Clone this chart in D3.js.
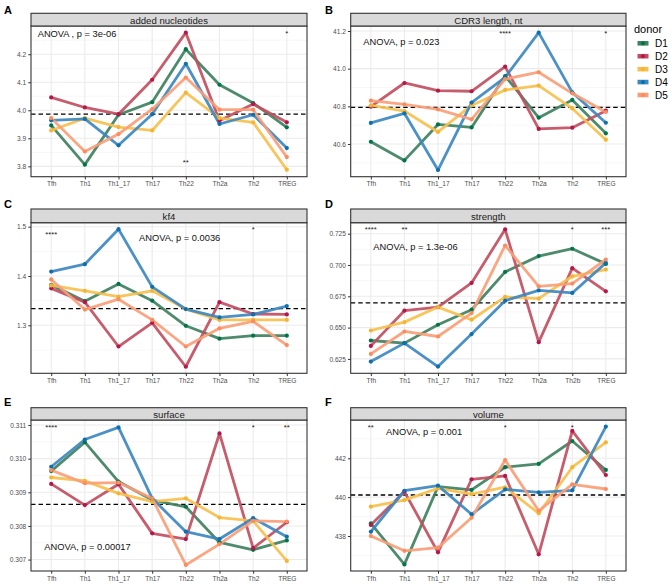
<!DOCTYPE html>
<html>
<head>
<meta charset="utf-8">
<script src="https://cdn.jsdelivr.net/npm/d3@7"></script>
<style>
  html, body { margin: 0; padding: 0; background: #fff; }
  svg { display: block; font-family: "Liberation Sans", Arial, Helvetica, sans-serif; }
</style>
</head>
<body>
<svg id="chart" width="671" height="584"></svg>
<script>
// ---------------- DATA ----------------
const categories  = ["Tfh", "Th1", "Th1_17", "Th17", "Th22", "Th2a", "Th2", "TREG"];
const categoriesD = ["Tfh", "Th1", "Th1_17", "Th17", "Th22", "Th2a", "Th2b", "TREG"];
const donors = ["D1", "D2", "D3", "D4", "D5"];
const lineColors  = ["#3f8160", "#c14e60", "#f6c04e", "#3c88c0", "#fa9e78"];
const pointColors = ["#00754a", "#b6164a", "#f5b530", "#0d6fad", "#f98d5e"];

// values per donor (D1..D5), in category order
const addedNucleotides = [
  [3.946, 3.806, 3.984, 4.029, 4.218, 4.091, 4.026, 3.939],
  [4.046, 4.010, 3.986, 4.109, 4.277, 3.963, 4.022, 3.957],
  [3.928, 3.972, 3.940, 3.928, 4.063, 3.972, 3.957, 3.788],
  [3.964, 3.969, 3.875, 3.986, 4.166, 3.951, 3.984, 3.865],
  [3.972, 3.853, 3.915, 4.004, 4.117, 4.002, 4.002, 3.833]
];
const cdr3Length = [
  [40.612, 40.513, 40.704, 40.688, 40.961, 40.740, 40.834, 40.657],
  [40.798, 40.924, 40.883, 40.880, 41.011, 40.680, 40.687, 40.777],
  [40.805, 40.775, 40.664, 40.805, 40.887, 40.910, 40.789, 40.623],
  [40.712, 40.763, 40.462, 40.820, 40.954, 41.191, 40.874, 40.713],
  [40.830, 40.811, 40.784, 40.731, 40.945, 40.981, 40.869, 40.770]
];
const kf4 = [
  [1.382, 1.349, 1.384, 1.350, 1.299, 1.273, 1.279, 1.279],
  [1.375, 1.347, 1.257, 1.305, 1.216, 1.347, 1.323, 1.322],
  [1.381, 1.370, 1.358, 1.370, 1.333, 1.311, 1.311, 1.311],
  [1.409, 1.424, 1.495, 1.378, 1.333, 1.316, 1.322, 1.339],
  [1.393, 1.332, 1.353, 1.311, 1.257, 1.294, 1.308, 1.260]
];
const strength = [
  [0.6397, 0.6376, 0.6523, 0.6643, 0.6945, 0.7071, 0.7130, 0.7009],
  [0.6354, 0.6635, 0.6664, 0.6857, 0.7285, 0.6384, 0.6975, 0.6790],
  [0.6477, 0.6544, 0.6664, 0.6563, 0.6745, 0.6731, 0.6910, 0.6964],
  [0.6229, 0.6376, 0.6189, 0.6448, 0.6715, 0.6798, 0.6777, 0.7017],
  [0.6290, 0.6469, 0.6429, 0.6616, 0.7156, 0.6830, 0.6852, 0.7044]
];
const surface = [
  [0.30963, 0.31049, 0.30932, 0.30877, 0.30857, 0.30751, 0.30729, 0.30757],
  [0.30925, 0.30862, 0.30924, 0.30778, 0.30761, 0.31075, 0.30734, 0.30811],
  [0.30944, 0.30934, 0.30897, 0.30872, 0.30882, 0.30825, 0.30815, 0.30696],
  [0.30976, 0.31057, 0.31093, 0.30882, 0.30783, 0.30761, 0.30823, 0.30768],
  [0.30966, 0.30927, 0.30929, 0.30882, 0.30684, 0.30746, 0.30815, 0.30813]
];
const volume = [
  [438.65, 436.54, 440.54, 440.37, 441.54, 441.71, 442.89, 441.40],
  [438.57, 440.28, 437.16, 440.92, 441.09, 437.06, 443.41, 441.14],
  [439.51, 439.85, 440.45, 440.16, 440.51, 439.17, 441.54, 442.82],
  [438.22, 440.33, 440.59, 439.12, 440.40, 440.25, 440.35, 443.63],
  [438.00, 437.24, 437.40, 438.94, 441.91, 439.30, 440.66, 440.42]
];

const panelTitles = ["added nucleotides", "CDR3 length, nt", "kf4", "strength", "surface", "volume"];
const panelLetters = ["A", "B", "C", "D", "E", "F"];
const overallMeans = [3.986, 40.795, 1.334, 0.6697, 0.30864, 440.11];
const anovaLabels = ["ANOVA , p = 3e-06", "ANOVA, p = 0.023", "ANOVA, p = 0.0036",
                     "ANOVA, p = 1.3e-06", "ANOVA, p = 0.00017", "ANOVA, p = 0.001"];
const yDomains = [[3.763, 4.3007], [40.4265, 41.2265], [1.2027, 1.5081],
                  [0.6135, 0.7338], [0.30666, 0.31115], [436.20, 443.97]];
const yTicks = [[3.8, 3.9, 4.0, 4.1, 4.2], [40.6, 40.8, 41.0, 41.2], [1.3, 1.4, 1.5],
                [0.625, 0.650, 0.675, 0.700, 0.725], [0.307, 0.308, 0.309, 0.310, 0.311], [438, 440, 442]];
const yTickFormats = [".1f", ".1f", ".1f", ".3f", ".3f", "d"];
const yMinor = [[3.85, 3.95, 4.05, 4.15, 4.25], [40.5, 40.7, 40.9, 41.1], [1.25, 1.35, 1.45],
                [0.6375, 0.6625, 0.6875, 0.7125], [0.3075, 0.3085, 0.3095, 0.3105], [437, 439, 441, 443]];
// significance marks: [category, label, y value]
const sigMarks = [
  [["TREG", "*", 4.280], ["Th22", "**", 3.820]],
  [["Th22", "****", 41.196], ["TREG", "*", 41.196]],
  [["Tfh", "****", 1.488], ["Th2", "*", 1.498]],
  [["Tfh", "****", 0.7298], ["Th1", "**", 0.7298], ["Th2b", "*", 0.7298], ["TREG", "***", 0.7298]],
  [["Tfh", "****", 0.31097], ["Th2", "*", 0.31097], ["TREG", "**", 0.31097]],
  [["Tfh", "**", 443.68], ["Th22", "*", 443.68], ["Th2", "*", 443.68]]
];

const panelSeries = [addedNucleotides, cdr3Length, kf4, strength, surface, volume];
const panelCats = [categories, categories, categories, categoriesD, categories, categories];

// ---------------- LAYOUT ----------------
const cols = [[31, 307], [350.7, 626]];
const rows = [[13.3, 26, 176.7], [209, 222.7, 373.3], [407.7, 420, 571]];
const anovaPos = [[37.7, 34.3], [363.3, 42.3], [139, 237.7], [373.3, 246.7], [44.3, 547.3], [386, 431.7]];
const letterPos = [[4, 14], [325, 14], [4, 208], [325, 208], [4, 406], [325, 406]];

const svg = d3.select("#chart");
svg.append("rect").attr("width", 671).attr("height", 584).attr("fill", "#fff");

panelSeries.forEach((series, p) => {
  const [x0, x1] = cols[p % 2];
  const [sTop, pTop, pBot] = rows[Math.floor(p / 2)];
  const cats = panelCats[p];
  const x = d3.scalePoint().domain(cats).range([x0, x1]).padding(0.6);
  const y = d3.scaleLinear().domain(yDomains[p]).range([pBot, pTop]);
  const g = svg.append("g");

  // grid
  g.selectAll(".minor").data(yMinor[p]).join("line")
    .attr("x1", x0).attr("x2", x1).attr("y1", d => y(d)).attr("y2", d => y(d))
    .attr("stroke", "#f2f2f2").attr("stroke-width", 0.6);
  g.selectAll(".majorY").data(yTicks[p]).join("line")
    .attr("x1", x0).attr("x2", x1).attr("y1", d => y(d)).attr("y2", d => y(d))
    .attr("stroke", "#ebebeb").attr("stroke-width", 1.1);
  g.selectAll(".majorX").data(cats).join("line")
    .attr("x1", d => x(d)).attr("x2", d => x(d)).attr("y1", pTop).attr("y2", pBot)
    .attr("stroke", "#ebebeb").attr("stroke-width", 1.1);

  // dashed mean line
  g.append("line").attr("x1", x0).attr("x2", x1)
    .attr("y1", y(overallMeans[p])).attr("y2", y(overallMeans[p]))
    .attr("stroke", "#000").attr("stroke-width", 1.3).attr("stroke-dasharray", "4.5,3");

  // lines
  const line = d3.line().x((d, i) => x(cats[i])).y(d => y(d));
  series.forEach((vals, k) => {
    g.append("path").attr("d", line(vals)).attr("fill", "none")
      .attr("stroke", lineColors[k]).attr("stroke-width", 2.8)
      .attr("stroke-linejoin", "round").attr("stroke-opacity", 0.92);
  });
  series.forEach((vals, k) => {
    g.selectAll(null).data(vals).join("circle")
      .attr("cx", (d, i) => x(cats[i])).attr("cy", d => y(d)).attr("r", 2.1)
      .attr("fill", pointColors[k]);
  });

  // significance marks
  g.selectAll(".sig").data(sigMarks[p]).join("text")
    .attr("x", d => x(d[0])).attr("y", d => y(d[2]) + 4.3)
    .attr("text-anchor", "middle").attr("font-size", 7.7).attr("fill", "#222")
    .text(d => d[1]);

  // anova label
  g.append("text").attr("x", anovaPos[p][0]).attr("y", anovaPos[p][1])
    .attr("dominant-baseline", "central").attr("font-size", 9.3).attr("fill", "#111")
    .text(anovaLabels[p]);

  // panel border
  g.append("rect").attr("x", x0).attr("y", pTop).attr("width", x1 - x0).attr("height", pBot - pTop)
    .attr("fill", "none").attr("stroke", "#333").attr("stroke-width", 1.1);

  // strip
  g.append("rect").attr("x", x0).attr("y", sTop).attr("width", x1 - x0).attr("height", pTop - sTop)
    .attr("fill", "#d9d9d9").attr("stroke", "#333").attr("stroke-width", 1.1);
  g.append("text").attr("x", (x0 + x1) / 2).attr("y", (sTop + pTop) / 2 + 0.5)
    .attr("text-anchor", "middle").attr("dominant-baseline", "central")
    .attr("font-size", 9.6).attr("fill", "#1a1a1a").text(panelTitles[p]);

  // axes
  const yAxis = d3.axisLeft(y).tickValues(yTicks[p]).tickFormat(d3.format(yTickFormats[p]))
    .tickSize(2.75).tickPadding(2);
  const ya = g.append("g").attr("transform", `translate(${x0},0)`).call(yAxis);
  ya.select(".domain").remove();
  ya.selectAll("line").attr("stroke", "#333");
  ya.selectAll("text").attr("font-size", 6.6).attr("fill", "#4d4d4d").attr("font-family", null);

  const xAxis = d3.axisBottom(x).tickSize(2.75).tickPadding(2.2);
  const xa = g.append("g").attr("transform", `translate(0,${pBot})`).call(xAxis);
  xa.select(".domain").remove();
  xa.selectAll("line").attr("stroke", "#333");
  xa.selectAll("text").attr("font-size", 6.6).attr("fill", "#4d4d4d").attr("font-family", null);

  // letter
  svg.append("text").attr("x", letterPos[p][0]).attr("y", letterPos[p][1])
    .attr("font-size", 11).attr("font-weight", "bold").attr("fill", "#000").text(panelLetters[p]);
});

// legend
const leg = svg.append("g");
leg.append("text").attr("x", 634).attr("y", 29).attr("dominant-baseline", "central")
  .attr("font-size", 11).attr("fill", "#000").text("donor");
const legY = d3.scalePoint().domain(donors).range([43.3, 95]);
donors.forEach((d, k) => {
  const yy = legY(d);
  leg.append("line").attr("x1", 637.5).attr("x2", 648.5).attr("y1", yy).attr("y2", yy)
    .attr("stroke", lineColors[k]).attr("stroke-width", 4.6);
  leg.append("circle").attr("cx", 643).attr("cy", yy).attr("r", 2.1).attr("fill", pointColors[k]);
  leg.append("text").attr("x", 655).attr("y", yy).attr("dominant-baseline", "central")
    .attr("font-size", 10).attr("fill", "#000").text(d);
});
</script>
</body>
</html>
